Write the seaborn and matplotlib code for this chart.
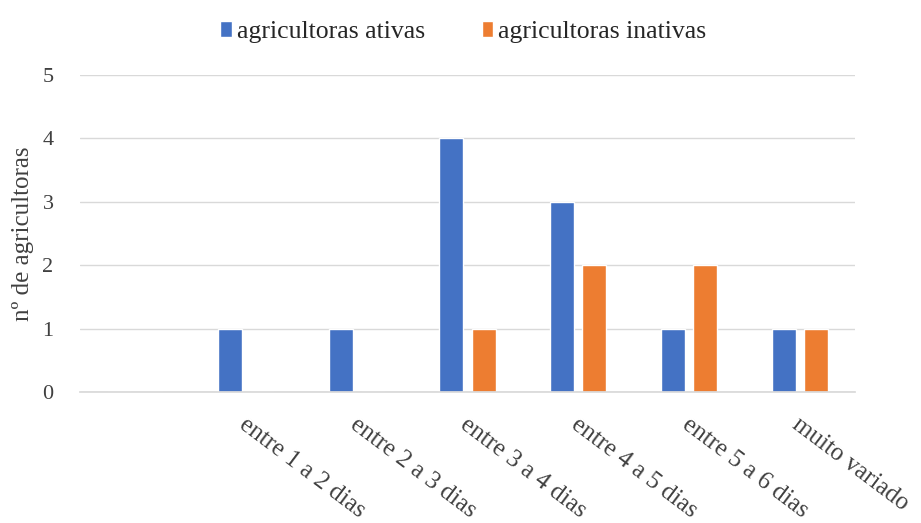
import matplotlib
matplotlib.use("Agg")
import matplotlib.pyplot as plt
import matplotlib.transforms as mtransforms
import seaborn as sns
import pandas as pd

categorias = [" ", "entre 1 a 2 dias", "entre 2 a 3 dias", "entre 3 a 4 dias",
              "entre 4 a 5 dias", "entre 5 a 6 dias", "muito variado"]
ativas = [0, 1, 1, 4, 3, 1, 1]
inativas = [0, 0, 0, 1, 2, 2, 1]
series = ["agricultoras ativas", "agricultoras inativas"]
cores = ["#4472C4", "#ED7D31"]

df = pd.DataFrame({
    "categoria": categorias * 2,
    "valor": ativas + inativas,
    "serie": [series[0]] * len(categorias) + [series[1]] * len(categorias),
})

sns.set_theme(style="white")
plt.rcParams["font.family"] = ["Liberation Serif", "DejaVu Serif"]

fig = plt.figure(figsize=(9.21, 5.23), dpi=100)
ax = fig.add_axes([80 / 921, 1 - 392 / 523, 775 / 921, (392 - 75) / 523])

sns.barplot(data=df, x="categoria", y="valor", hue="serie", order=categorias,
            hue_order=series, palette=cores, width=0.58, gap=0.25,
            saturation=1, ax=ax, legend=True)

ax.set_xlim(-0.5, len(categorias) - 0.5)
ax.set_ylim(0, 5)
ax.set_yticks(range(0, 6))
ax.yaxis.grid(True, color="#d9d9d9", linewidth=1)
ax.set_axisbelow(True)
for s in ["top", "right", "left"]:
    ax.spines[s].set_visible(False)
ax.spines["bottom"].set_color("#d9d9d9")
ax.tick_params(axis="both", length=0, colors="#404040")
ax.tick_params(axis="y", pad=19, labelsize=16)
ax.tick_params(axis="x", labelsize=18)

ax.set_xlabel("")
ax.set_ylabel("nº de agricultoras", fontsize=18, color="#404040",
              va="center", ha="center")
ax.yaxis.set_label_coords(-0.074, 0.5)

ax.set_xticks(range(len(categorias)))
ax.set_xticklabels(categorias, rotation=-37, ha="left", va="top",
                   rotation_mode="anchor")
shift = mtransforms.ScaledTranslation(0.02, -0.17, fig.dpi_scale_trans)
for lbl in ax.get_xticklabels():
    lbl.set_transform(lbl.get_transform() + shift)

handles, labels = ax.get_legend_handles_labels()
ax.legend(handles, labels, loc="upper center", bbox_to_anchor=(0.503, 1.005),
          bbox_transform=fig.transFigure, ncol=2, frameon=False,
          fontsize=18.5, handlelength=0.45, handleheight=0.6, handletextpad=0.2,
          columnspacing=2.2, labelcolor="#262626")

fig.savefig("out.png", dpi=100, facecolor="white")
